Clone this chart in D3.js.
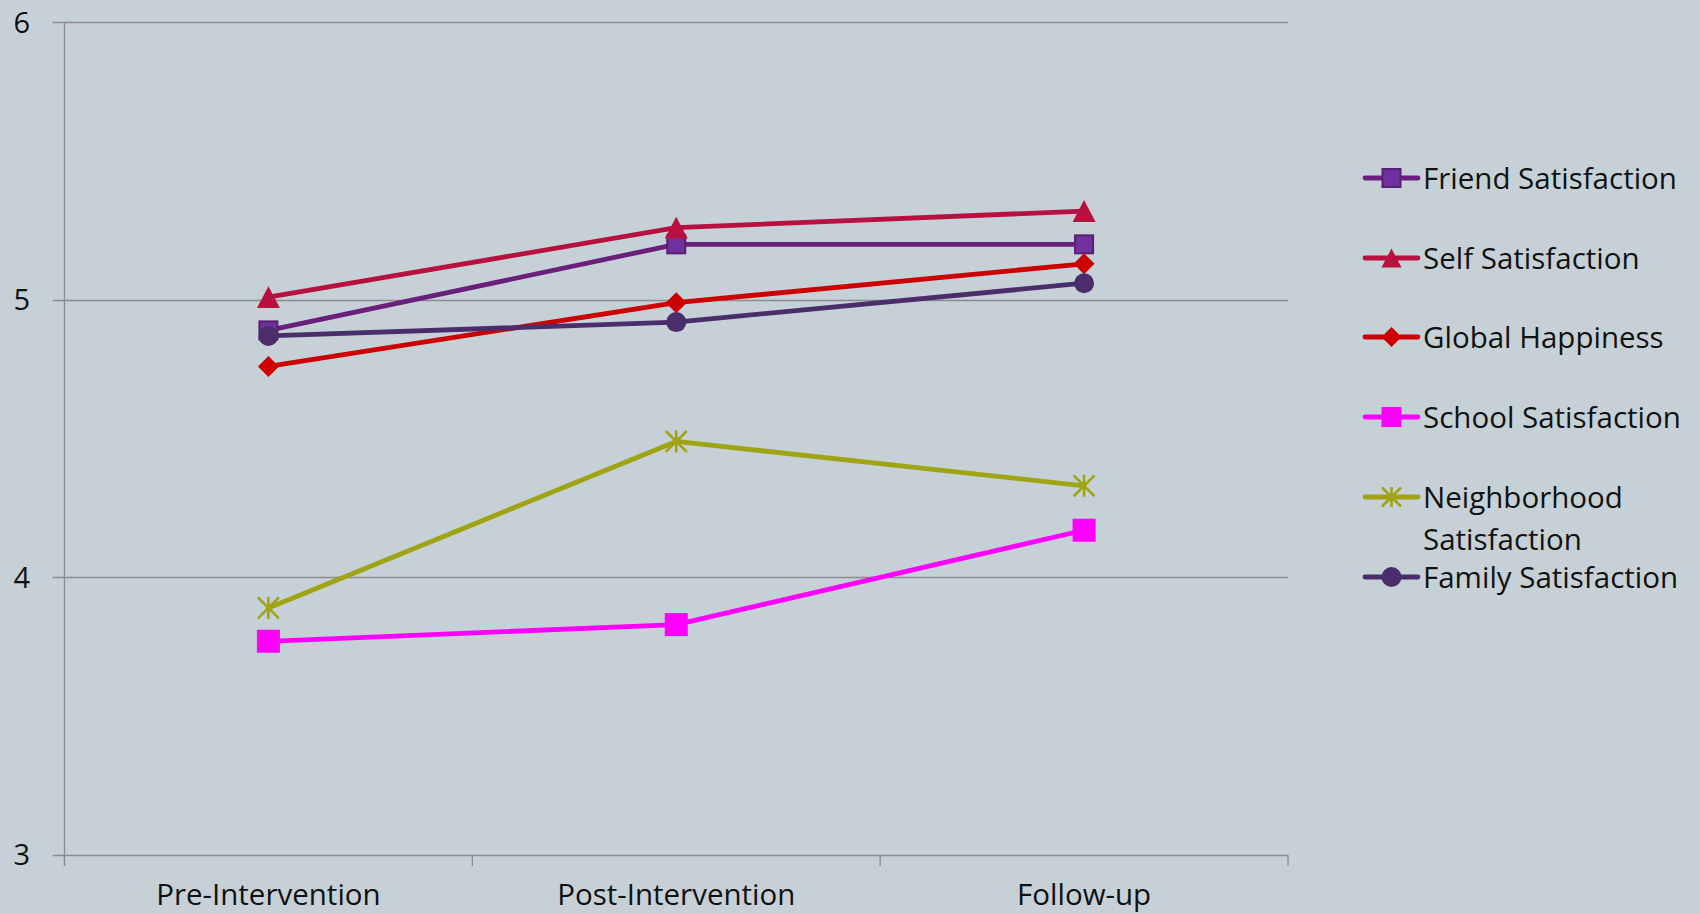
<!DOCTYPE html>
<html><head><meta charset="utf-8">
<script src="https://cdnjs.cloudflare.com/ajax/libs/d3/7.8.5/d3.min.js"></script>
<style>html,body{margin:0;padding:0;background:#c6d1d7;}svg{display:block;}</style>
</head><body>
<script>
const categories = ["Pre-Intervention", "Post-Intervention", "Follow-up"];
const seriesNames = ["Friend Satisfaction", "Self Satisfaction", "Global Happiness", "School Satisfaction", "Neighborhood Satisfaction", "Family Satisfaction"];
const friend = [4.89, 5.20, 5.20];
const self = [5.01, 5.26, 5.32];
const globalHappiness = [4.76, 4.99, 5.13];
const school = [3.77, 3.83, 4.17];
const neighborhood = [3.89, 4.49, 4.33];
const family = [4.87, 4.92, 5.06];
const yTicks = [3, 4, 5, 6];

const series = [
  {name: seriesNames[0], values: friend, line: "#6b1f7c", fill: "#7030a0", stroke: "#5a1f70", marker: "square", size: 20},
  {name: seriesNames[1], values: self, line: "#b8103f", fill: "#b8103f", stroke: "#b8103f", marker: "triangle", size: 23},
  {name: seriesNames[2], values: globalHappiness, line: "#cc0000", fill: "#cc0000", stroke: "#cc0000", marker: "diamond", size: 21},
  {name: seriesNames[3], values: school, line: "#ff00ff", fill: "#ff00ff", stroke: "#ff00ff", marker: "square", size: 23},
  {name: seriesNames[4], values: neighborhood, line: "#a0a412", fill: "none", stroke: "#a0a412", marker: "star", size: 22},
  {name: seriesNames[5], values: family, line: "#4b2d6b", fill: "#4b2d6b", stroke: "#4b2d6b", marker: "circle", size: 20}
];
const drawOrder = [0, 1, 2, 3, 4, 5];

const W = 1700, H = 914;
const svg = d3.select("body").append("svg").attr("width", W).attr("height", H);
svg.append("rect").attr("width", W).attr("height", H).attr("fill", "#c6d1d7");

const pLeft = 64.5, pRight = 1288, pTop = 22.3, pBottom = 855;
const x = d3.scaleBand().domain(categories).range([pLeft, pRight]);
const y = d3.scaleLinear().domain([3, 6]).range([pBottom, pTop]);
const font = "'Open Sans', Lato, sans-serif";
const grid = "#8a8c8e";

svg.append("g").selectAll("line").data(yTicks).join("line")
  .attr("x1", pLeft - 12).attr("x2", pRight)
  .attr("y1", d => Math.round(y(d)) + 0.5).attr("y2", d => Math.round(y(d)) + 0.5)
  .attr("stroke", grid).attr("stroke-width", 1.3);

svg.append("line").attr("x1", pLeft).attr("x2", pLeft).attr("y1", pTop).attr("y2", pBottom + 11)
  .attr("stroke", grid).attr("stroke-width", 1.3);

const edges = categories.map(c => x(c)).concat([pRight]);
svg.append("g").selectAll("line").data(edges).join("line")
  .attr("x1", d => d).attr("x2", d => d).attr("y1", pBottom).attr("y2", pBottom + 11)
  .attr("stroke", grid).attr("stroke-width", 1.3);

svg.append("g").selectAll("text").data(yTicks).join("text")
  .attr("x", 30).attr("y", d => y(d)).attr("dy", "0.36em")
  .attr("text-anchor", "end").attr("font-family", font).attr("font-size", 29)
  .attr("fill", "#111").text(d => d);

svg.append("g").selectAll("text").data(categories).join("text")
  .attr("x", d => x(d) + x.bandwidth() / 2).attr("y", 905)
  .attr("text-anchor", "middle").attr("font-family", font).attr("font-size", 29.5)
  .attr("fill", "#111").text(d => d);

function drawMarker(g, type, size, fill, stroke) {
  const s = size / 2;
  if (type === "square") {
    g.append("rect").attr("x", -s + 1).attr("y", -s + 1).attr("width", size - 2).attr("height", size - 2)
      .attr("fill", fill).attr("stroke", stroke).attr("stroke-width", 2);
  } else if (type === "triangle") {
    g.append("path").attr("d", `M0,${-s * 0.95} L${s},${s * 0.95} L${-s},${s * 0.95} Z`).attr("fill", fill);
  } else if (type === "diamond") {
    g.append("path").attr("d", `M0,${-s} L${s},0 L0,${s} L${-s},0 Z`).attr("fill", fill);
  } else if (type === "circle") {
    g.append("circle").attr("r", s).attr("fill", fill);
  } else if (type === "star") {
    const r = s;
    const pts = [[0, -r, 0, r], [-r * 0.95, -r * 0.95, r * 0.95, r * 0.95], [r * 0.95, -r * 0.95, -r * 0.95, r * 0.95]];
    pts.forEach(p => g.append("line").attr("x1", p[0]).attr("y1", p[1]).attr("x2", p[2]).attr("y2", p[3])
      .attr("stroke", stroke).attr("stroke-width", 2.6));
  }
}

const line = d3.line().x((d, i) => x(categories[i]) + x.bandwidth() / 2).y(d => y(d));
const plot = svg.append("g");
drawOrder.forEach(k => {
  const s = series[k];
  const g = plot.append("g");
  g.append("path").datum(s.values).attr("d", line).attr("fill", "none")
    .attr("stroke", s.line).attr("stroke-width", 4.8).attr("stroke-linejoin", "round").attr("stroke-linecap", "round");
  s.values.forEach((v, i) => {
    const m = g.append("g").attr("transform", `translate(${x(categories[i]) + x.bandwidth() / 2},${y(v)})`);
    drawMarker(m, s.marker, s.size, s.fill, s.stroke);
  });
});

const legendY = [178, 258, 337, 417, 497, 577];
const leg = svg.append("g");
series.forEach((s, i) => {
  const g = leg.append("g").attr("transform", `translate(0,${legendY[i]})`);
  g.append("line").attr("x1", 1365).attr("x2", 1418).attr("y1", 0).attr("y2", 0)
    .attr("stroke", s.line).attr("stroke-width", 4.8).attr("stroke-linecap", "round");
  const m = g.append("g").attr("transform", "translate(1391.5,0)");
  drawMarker(m, s.marker, 20, s.fill, s.stroke);
  const t = g.append("text").attr("x", 1423).attr("y", 0).attr("dy", "0.36em")
    .attr("font-family", font).attr("font-size", 29.5).attr("fill", "#111");
  if (s.name === "Neighborhood Satisfaction") {
    t.append("tspan").attr("x", 1423).text("Neighborhood");
    t.append("tspan").attr("x", 1423).attr("dy", 42).text("Satisfaction");
  } else {
    t.text(s.name);
  }
});
</script>
</body></html>
